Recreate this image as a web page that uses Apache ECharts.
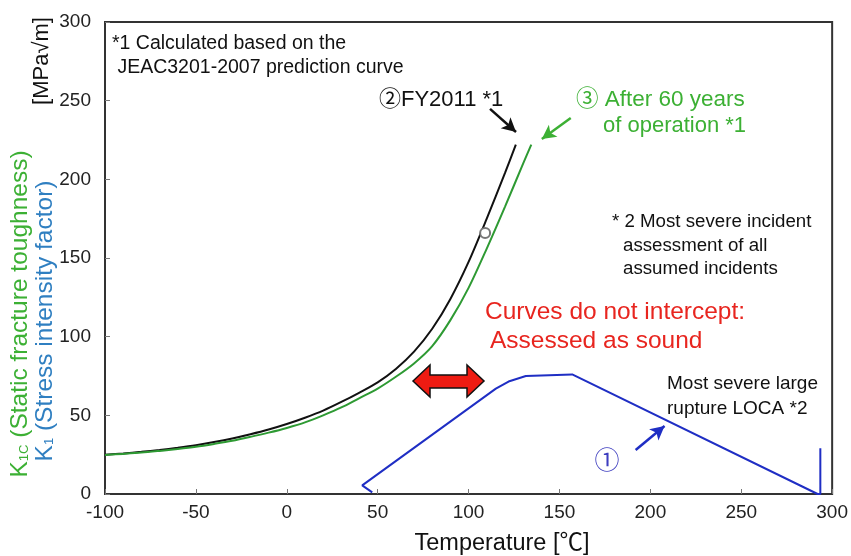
<!DOCTYPE html>
<html>
<head>
<meta charset="utf-8">
<script src="https://cdn.jsdelivr.net/npm/echarts@6/dist/echarts.min.js"></script>
<style>
  html, body { margin: 0; padding: 0; background: #fff; }
  #chart { width: 851px; height: 556px; }
</style>
</head>
<body>
<div id="chart"></div>
<script>
  // (2) FY2011 static fracture toughness curve
  const fy2011Temp = [-100, -90, -80, -70, -60, -50, -40, -30, -20, -10, 0, 10, 20, 30, 40, 50, 60, 70, 80, 90, 100, 110, 120, 126]
  const fy2011K = [25, 25.8, 26.8, 28, 29.4, 31, 33, 35.3, 38, 41, 44.5, 48.5, 53, 58.5, 64.5, 71, 79.5, 90.5, 105, 124, 147.5, 175, 204, 222]
  // (3) after 60 years of operation
  const after60Temp = [-100, -90, -80, -70, -60, -50, -40, -30, -20, -10, 0, 10, 20, 30, 40, 50, 60, 70, 80, 90, 100, 110, 120, 130, 134.5]
  const after60K = [24.8, 25.5, 26.3, 27.4, 28.6, 30, 31.8, 33.8, 36.3, 39, 42, 45.5, 50, 55, 61, 67, 74.5, 83, 94, 110.5, 131, 156, 182.5, 210, 222]
  // (1) most severe large rupture LOCA, stress intensity factor
  const locaTemp = [47, 41.5, 115, 122, 131.5, 157, 292, 293.5, 293.5]
  const locaK = [1, 5.5, 67, 71.5, 75, 76, 0, 0, 29]

  // annotation arrows, [from, to] in data units
  const blackArrow = [[111.8, 244.8], [126.1, 230.1]]
  const greenArrow = [[156.2, 239], [140.3, 225.7]]
  const blueArrow = [[191.9, 28], [207.8, 43.2]]
  const markerPoint = [109.1, 165.9]

  const zip = (xs, ys) => xs.map((x, i) => [x, ys[i]])
  const font = 'Arial, "Liberation Sans", "Noto Sans CJK JP", sans-serif'

  function arrow (pts, color, width) {
    return {
      silent: true,
      symbol: ['none', 'arrow'],
      symbolSize: [11, 14],
      label: { show: false },
      lineStyle: { color: color, width: width, type: 'solid' },
      data: [[{ coord: pts[0] }, { coord: pts[1] }]]
    }
  }

  function txt (x, y, text, size, color, align) {
    return {
      type: 'text',
      x: x,
      y: y,
      silent: true,
      style: {
        text: text,
        fill: color || '#111',
        font: size + 'px ' + font,
        textAlign: align || 'left',
        textVerticalAlign: 'middle'
      }
    }
  }

  function vtxt (x, y, main, sub, rest, size, color) {
    return {
      type: 'text',
      x: x,
      y: y,
      rotation: Math.PI / 2,
      silent: true,
      style: {
        text: '{k|' + main + '}{s|' + sub + '}{k|' + rest + '}',
        fill: color,
        font: size + 'px ' + font,
        textAlign: 'center',
        textVerticalAlign: 'middle',
        rich: {
          k: { fontSize: size, fill: color, fontFamily: font },
          s: { fontSize: Math.round(size * 0.55), fill: color, fontFamily: font, padding: [9, 0, 0, 0] }
        }
      }
    }
  }

  const axisCommon = {
    type: 'value',
    interval: 50,
    axisLine: { show: true, onZero: false, lineStyle: { color: '#333', width: 2 } },
    axisTick: { show: true, inside: true, length: 5, lineStyle: { color: '#777' } },
    axisLabel: { fontSize: 19, color: '#222', fontFamily: font },
    splitLine: { show: false }
  }

  var chart = echarts.init(document.getElementById('chart'))
  let option = {
    animation: false,
    grid: {
      left: 105, right: 17, top: 22, bottom: 62,
      show: true, borderColor: '#333', borderWidth: 2
    },
    xAxis: Object.assign({}, axisCommon, {
      min: -100,
      max: 300,
      axisLabel: Object.assign({}, axisCommon.axisLabel, { margin: 9 })
    }),
    yAxis: Object.assign({}, axisCommon, {
      min: 0,
      max: 300,
      axisLabel: Object.assign({}, axisCommon.axisLabel, { margin: 14 })
    }),
    series: [{
      name: 'FY2011',
      type: 'line',
      smooth: 0.3,
      showSymbol: false,
      lineStyle: { color: '#111', width: 2 },
      data: zip(fy2011Temp, fy2011K),
      markLine: arrow(blackArrow, '#111', 2.5),
      markPoint: {
        silent: true,
        symbol: 'emptyCircle',
        symbolSize: 10,
        itemStyle: { color: '#777', borderWidth: 1.5 },
        label: { show: false },
        data: [{ coord: markerPoint }]
      }
    }, {
      name: 'After 60 years',
      type: 'line',
      smooth: 0.3,
      showSymbol: false,
      lineStyle: { color: '#2e9a33', width: 2 },
      data: zip(after60Temp, after60K),
      markLine: arrow(greenArrow, '#3cb034', 2.5)
    }, {
      name: 'LOCA',
      type: 'line',
      showSymbol: false,
      lineStyle: { color: '#1f2ec4', width: 2 },
      data: zip(locaTemp, locaK),
      markLine: arrow(blueArrow, '#1f2ec4', 2.5)
    }],
    graphic: [
      txt(112, 44, '*1 Calculated based on the', 19.5),
      txt(112, 68, ' JEAC3201-2007 prediction curve', 19.5),
      txt(379, 100, '②FY2011 *1', 22),
      txt(576, 100, '③ After 60 years', 22.5, '#3cb034'),
      txt(603, 126, 'of operation *1', 22, '#3cb034'),
      txt(612, 222, '* 2 Most severe incident', 18.7),
      txt(623, 246, 'assessment of all', 18.7),
      txt(623, 269, 'assumed incidents', 18.7),
      txt(485, 312, 'Curves do not intercept:', 24.5, '#e8251f'),
      txt(490, 341, 'Assessed as sound', 24.5, '#e8251f'),
      txt(667, 384, 'Most severe large', 19),
      txt(667, 409, 'rupture LOCA *2', 19),
      txt(607, 462, '①', 25, '#3d3dbf', 'center'),
      txt(502, 544, 'Temperature [℃]', 23.5, '#111', 'center'),
      vtxt(20, 314, 'K', '1C', ' (Static fracture toughness)', 24.5, '#3cb034'),
      vtxt(45, 321, 'K', '1', ' (Stress intensity factor)', 24.5, '#2f7fc1'),
      vtxt(42, 61, '[MPa√m]', '', '', 22, '#111'),
      {
        // red double-headed arrow
        type: 'polygon',
        silent: true,
        shape: {
          points: [[413, 381], [430, 365], [430, 375], [467, 375], [467, 365], [484, 381],
            [467, 397], [467, 388], [430, 388], [430, 397]]
        },
        style: { fill: '#ee1b12', stroke: '#111', lineWidth: 1.5 }
      }
    ]
  }
  chart.setOption(option)
</script>
</body>
</html>
